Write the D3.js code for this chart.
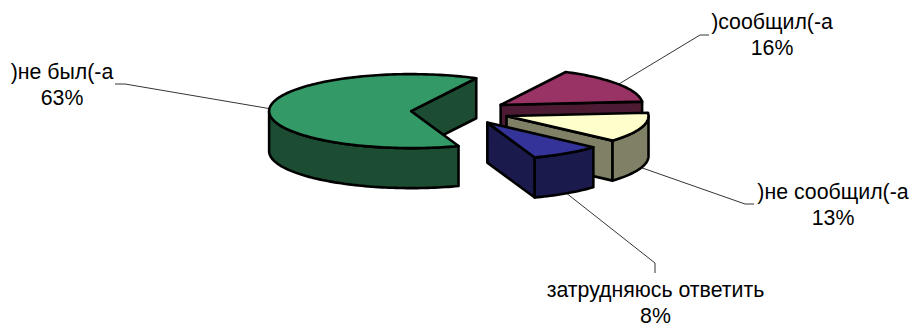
<!DOCTYPE html>
<html>
<head>
<meta charset="utf-8">
<script src="https://cdn.jsdelivr.net/npm/d3@7"></script>
<style>
  html, body { margin: 0; padding: 0; background: #fff; }
  svg { display: block; }
  text { font-family: "Liberation Sans", Arial, sans-serif; font-size: 21.3px; fill: #000; }
</style>
</head>
<body>
<div id="chart"></div>
<script>
const categories = [')сообщил(-а', ')не сообщил(-а', 'затрудняюсь ответить', ')не был(-а'];
const shares = [16, 13, 8, 63];
const topColors = ['#993366', '#ffffcc', '#333399', '#339966'];
const sideColors = ['#4d1a33', '#808066', '#1a1a4d', '#1c4d33'];

const width = 911;
const height = 327;
const center = { x: 460, y: 112 };
const radius = { x: 142, y: 37 };
const depth = 40;
const explode = 0.345;
const firstAngle = 27.3 * Math.PI / 180;

// label centre and the knee of each leader line
const labelSpots = [
    { x: 772, y: 28.5, knee: [[700, 35], [709, 35]] },
    { x: 833, y: 198.5, knee: [[745, 204], [754, 204]] },
    { x: 655.5, y: 296.5, knee: [[655, 263], [655, 273]] },
    { x: 62, y: 78.5, knee: [[125, 84], [115, 84]] }
];

const svg = d3.select('#chart').append('svg')
    .attr('width', width)
    .attr('height', height);

// unit circle -> screen, tilted pie
const x = d3.scaleLinear().domain([-1, 1]).range([-radius.x, radius.x]);
const y = d3.scaleLinear().domain([-1, 1]).range([-radius.y, radius.y]);

const pie = d3.pie()
    .sort(null)
    .startAngle(firstAngle)
    .endAngle(firstAngle + 2 * Math.PI);

const slices = pie(shares).map((d, i) => {
    const mid = (d.startAngle + d.endAngle) / 2;
    return {
        ...d,
        i,
        mid,
        cx: center.x + x(explode * Math.sin(mid)),
        cy: center.y + y(-explode * Math.cos(mid))
    };
});

const rim = (s, a, drop = 0) => [s.cx + x(Math.sin(a)), s.cy + y(-Math.cos(a)) + drop];
const arcPoints = (s, a0, a1, drop = 0) => {
    const n = Math.max(2, Math.ceil((a1 - a0) * 40));
    return d3.range(n + 1).map(k => rim(s, a0 + (a1 - a0) * k / n, drop));
};
const line = d3.line();
const closed = pts => line(pts) + 'Z';

function drawPiece(g, d, fill) {
    g.append('path')
        .attr('d', d)
        .attr('fill', fill)
        .attr('stroke', '#000')
        .attr('stroke-width', 2.6)
        .attr('stroke-linejoin', 'round');
}

// Leader lines sit under the pie
slices.forEach(s => {
    const lowerHalf = Math.cos(s.mid) < 0;
    const start = rim(s, s.mid, lowerHalf ? depth : 0);
    svg.append('path')
        .attr('d', line([start, ...labelSpots[s.i].knee]))
        .attr('fill', 'none')
        .attr('stroke', '#000')
        .attr('stroke-width', 0.8);
});

// Back pieces first
slices.slice().sort((a, b) => a.cy - b.cy).forEach(s => {
    const g = svg.append('g');
    const apex = [s.cx, s.cy];
    const apexLow = [s.cx, s.cy + depth];
    const side = sideColors[s.i];

    // cut face on the closing edge, only when it faces the viewer
    if (Math.sin(s.endAngle) > 0) {
        drawPiece(g, closed([apex, rim(s, s.endAngle), rim(s, s.endAngle, depth), apexLow]), side);
    }
    if (Math.sin(s.startAngle) < 0) {
        drawPiece(g, closed([apex, rim(s, s.startAngle), rim(s, s.startAngle, depth), apexLow]), side);
    }

    // outer wall: the front half of the rim (angles between 90 and 270 deg, plus a full turn)
    [[Math.PI / 2, 1.5 * Math.PI], [2.5 * Math.PI, 3.5 * Math.PI]].forEach(([lo, hi]) => {
        const a0 = Math.max(s.startAngle, lo);
        const a1 = Math.min(s.endAngle, hi);
        if (a1 > a0) {
            drawPiece(g, closed([...arcPoints(s, a0, a1), ...arcPoints(s, a0, a1, depth).reverse()]), side);
        }
    });

    // top
    drawPiece(g, closed([apex, ...arcPoints(s, s.startAngle, s.endAngle)]), topColors[s.i]);
});

// Labels
slices.forEach(s => {
    const spot = labelSpots[s.i];
    const label = svg.append('text').attr('text-anchor', 'middle');
    label.append('tspan').attr('x', spot.x).attr('y', spot.y).text(categories[s.i]);
    label.append('tspan').attr('x', spot.x).attr('y', spot.y + 26).text(shares[s.i] + '%');
});
</script>
</body>
</html>
